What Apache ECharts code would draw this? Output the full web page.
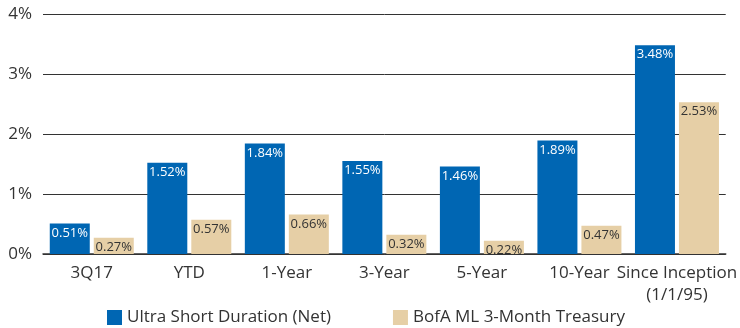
<!DOCTYPE html>
<html>
<head>
<meta charset="utf-8">
<script src="https://cdn.jsdelivr.net/npm/echarts@6/dist/echarts.min.js"></script>
<style>
  html, body { margin: 0; padding: 0; background: #fff; }
  #chart { width: 740px; height: 328px; }
</style>
</head>
<body>
<div id="chart"></div>
<script>
const categories = ["3Q17", "YTD", "1-Year", "3-Year", "5-Year", "10-Year", "Since Inception\n(1/1/95)"];
const ultraShort = [0.51, 1.52, 1.84, 1.55, 1.46, 1.89, 3.48];
const bofaTreasury = [0.27, 0.57, 0.66, 0.32, 0.22, 0.47, 2.53];
const yTicks = [0, 1, 2, 3, 4];

const FONT = "'Open Sans', Lato, sans-serif";

const chart = echarts.init(document.getElementById("chart"));

const barLabel = (color) => ({
  show: true,
  position: "insideTop",
  distance: 3,
  color: color,
  fontSize: 13,
  fontFamily: FONT,
  formatter: (p) => p.value.toFixed(2) + "%",
});

chart.setOption({
  animation: false,
  grid: { left: 43, right: 12, top: 14, bottom: 74, containLabel: false },
  legend: {
    left: 107,
    top: 309,
    padding: 0,
    itemWidth: 15,
    itemHeight: 15,
    itemGap: 62,
    icon: "rect",
    textStyle: { fontSize: 17, color: "#333", fontFamily: FONT, padding: [0, 0, 0, 0] },
    data: ["Ultra Short Duration (Net)", "BofA ML 3-Month Treasury"],
  },
  xAxis: {
    type: "category",
    data: categories,
    axisTick: { show: false },
    axisLine: { lineStyle: { color: "#333", width: 1.5 } },
    axisLabel: {
      color: "#333",
      fontSize: 17,
      fontFamily: FONT,
      margin: 8,
      lineHeight: 22,
      interval: 0,
    },
  },
  yAxis: {
    type: "value",
    min: yTicks[0],
    max: yTicks[yTicks.length - 1],
    interval: 1,
    axisLine: { show: false },
    axisTick: { show: false },
    splitLine: { lineStyle: { color: "#333", width: 1 } },
    axisLabel: {
      color: "#333",
      fontSize: 17,
      fontFamily: FONT,
      margin: 11,
      formatter: "{value}%",
    },
  },
  series: [
    {
      name: "Ultra Short Duration (Net)",
      type: "bar",
      data: ultraShort,
      barWidth: 40,
      barGap: "10%",
      itemStyle: { color: "#0066b3" },
      label: barLabel("#fff"),
    },
    {
      name: "BofA ML 3-Month Treasury",
      type: "bar",
      data: bofaTreasury,
      barWidth: 40,
      itemStyle: { color: "#e6cfa6" },
      label: barLabel("#333"),
    },
  ],
});
</script>
</body>
</html>
